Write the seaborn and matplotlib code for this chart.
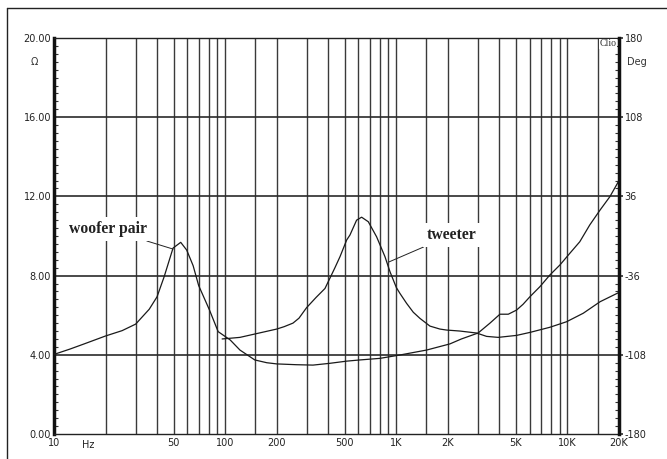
import numpy as np
import pandas as pd
import matplotlib
matplotlib.use("Agg")
import matplotlib.pyplot as plt
import seaborn as sns
from matplotlib.lines import Line2D
from matplotlib.ticker import FixedLocator, FixedFormatter, NullFormatter

# ---------------- data ----------------
woofer_freq = [10, 12.4, 15, 20, 25, 30, 36, 40, 44, 49.6, 55, 59.6, 65, 70, 81, 91,
               107, 122, 149, 175, 200, 260, 326, 409, 513, 612, 802, 1050, 1503,
               2056, 2400, 3005, 3525, 4030, 4510, 5042, 5500, 6030, 6900, 7890, 9040,
               10330, 11800, 13500, 15500, 17700, 20000]
woofer_z = [4.02, 4.29, 4.55, 4.95, 5.22, 5.55, 6.3, 6.93, 7.94, 9.39, 9.68, 9.29, 8.5, 7.5, 6.26, 5.17,
            4.75, 4.24, 3.74, 3.60, 3.54, 3.50, 3.48, 3.57, 3.68, 3.74, 3.82, 3.99, 4.24,
            4.55, 4.8, 5.1, 5.6, 6.05, 6.05, 6.26, 6.55, 6.93, 7.44, 8.03, 8.54,
            9.13, 9.71, 10.56, 11.31, 11.99, 12.8]

tweeter_freq = [96, 122, 149, 200, 221, 249, 270, 299, 340, 383, 438, 469, 513, 536, 586, 627,
                686, 767, 858, 918, 1000, 1050, 1148, 1256, 1374, 1572, 1798, 1966, 2350,
                2943, 3368, 3938, 5042, 6030, 7890, 9880, 12370, 15500, 20000]
tweeter_z = [4.80, 4.88, 5.05, 5.30, 5.42, 5.60, 5.85, 6.38, 6.9, 7.35, 8.4, 8.96, 9.8, 10.05, 10.8, 10.95,
             10.72, 9.96, 8.96, 8.2, 7.4, 7.1, 6.6, 6.15, 5.84, 5.45, 5.3, 5.25, 5.2,
             5.1, 4.93, 4.88, 4.98, 5.13, 5.39, 5.67, 6.10, 6.68, 7.15]

x_tick_vals = [10, 50, 100, 200, 500, 1000, 2000, 5000, 10000, 20000]
x_tick_labels = ["10", "50", "100", "200", "500", "1K", "2K", "5K", "10K", "20K"]
vgrid_freqs = [20, 30, 40, 50, 60, 70, 80, 90, 100, 150, 200, 300, 400, 500, 600, 700,
               800, 900, 1000, 1500, 2000, 3000, 4000, 5000, 6000, 7000, 8000, 9000,
               10000, 15000]
y_tick_vals = [0, 4, 8, 12, 16, 20]
y_tick_labels = ["0.00", "4.00", "8.00", "12.00", "16.00", "20.00"]
deg_tick_vals = [-180, -108, -36, 36, 108, 180]
deg_tick_labels = ["-180", "-108", "-36", "36", "108", "180"]

df_w = pd.DataFrame({"freq": woofer_freq, "z": woofer_z})
df_t = pd.DataFrame({"freq": tweeter_freq, "z": tweeter_z})

# ---------------- plot ----------------
sns.set_theme(style="white")
plt.rcParams["font.family"] = ["DejaVu Sans"]

W, H = 667, 459
fig = plt.figure(figsize=(W / 100, H / 100), dpi=100)
fig.patch.set_facecolor("white")
L, R, T, B = 54, 619, 38, 434
ax = fig.add_axes([L / W, (H - B) / H, (R - L) / W, (B - T) / H])
ax.set_facecolor("white")

ax.set_xscale("log")
ax.set_xlim(10, 20000)
ax.set_ylim(0, 20)

gcol = "#3a3a3a"
for f in vgrid_freqs:
    ax.axvline(f, color=gcol, lw=1.0, zorder=1)
for yv in [4, 8, 12, 16]:
    ax.axhline(yv, color="#2a2a2a", lw=1.2, zorder=1)

sns.lineplot(data=df_w, x="freq", y="z", ax=ax, color="#1a1a1a", lw=0.9, zorder=3)
sns.lineplot(data=df_t, x="freq", y="z", ax=ax, color="#1a1a1a", lw=0.9, zorder=3)
ax.set_xlabel("")
ax.set_ylabel("")

# ticks
ax.xaxis.set_major_locator(FixedLocator(x_tick_vals))
ax.xaxis.set_major_formatter(FixedFormatter(x_tick_labels))
ax.xaxis.set_minor_locator(FixedLocator([]))
ax.xaxis.set_minor_formatter(NullFormatter())
ax.tick_params(axis="x", which="both", length=0, pad=3, labelsize=7, labelcolor="#222")
ax.yaxis.set_major_locator(FixedLocator(y_tick_vals))
ax.yaxis.set_major_formatter(FixedFormatter(y_tick_labels))
ax.yaxis.set_minor_locator(FixedLocator(list(np.arange(0, 20.01, 0.4))))
ax.tick_params(axis="y", which="major", length=0, pad=2, labelsize=7, labelcolor="#222")
ax.tick_params(axis="y", which="minor", left=True, direction="in", length=3, width=0.8, color="#333")

for s in ["top", "bottom"]:
    ax.spines[s].set_color("#222")
    ax.spines[s].set_linewidth(1.0)
ax.spines["left"].set_color("#111")
ax.spines["left"].set_linewidth(2.5)
ax.spines["right"].set_visible(False)

ax2 = ax.twinx()
ax2.set_ylim(-180, 180)
ax2.yaxis.set_major_locator(FixedLocator(deg_tick_vals))
ax2.yaxis.set_major_formatter(FixedFormatter(deg_tick_labels))
ax2.yaxis.set_minor_locator(FixedLocator(list(np.arange(-180, 180.1, 7.2))))
ax2.tick_params(axis="y", which="major", length=3, direction="out", pad=1, labelsize=7,
                labelcolor="#222", color="#333")
ax2.tick_params(axis="y", which="minor", right=True, direction="in", length=3, width=0.8, color="#333")
for s in ["top", "bottom", "left"]:
    ax2.spines[s].set_visible(False)
ax2.spines["right"].set_color("#111")
ax2.spines["right"].set_linewidth(2.5)
ax2.grid(False)
ax.grid(False)

# text annotations
serif = ["Liberation Serif", "DejaVu Serif"]
ax.annotate("woofer pair", xy=(49.6, 9.34), xytext=(35.0, 10.35), ha="right", va="center",
            fontsize=11.3, fontweight="bold", family=serif, color="#222",
            bbox=dict(boxstyle="square,pad=0.25", fc="white", ec="none"),
            arrowprops=dict(arrowstyle="-", color="#222", lw=0.7, shrinkA=0, shrinkB=0),
            zorder=4)
ax.annotate("tweeter", xy=(906, 8.69), xytext=(1500, 10.05), ha="left", va="center",
            fontsize=11.3, fontweight="bold", family=serif, color="#222",
            bbox=dict(boxstyle="square,pad=0.25", fc="white", ec="none"),
            arrowprops=dict(arrowstyle="-", color="#222", lw=0.7, shrinkA=0, shrinkB=0),
            zorder=4)

fig.text((L - 20) / W, 1 - 62 / H, "Ω", fontsize=7, color="#333", ha="center", va="center")
fig.text(637 / W, 1 - 62 / H, "Deg", fontsize=7, color="#333", ha="center", va="center")
fig.text(608 / W, 1 - 44 / H, "Clio", fontsize=7, color="#333", ha="center", va="center",
         family=serif, bbox=dict(boxstyle="square,pad=0.1", fc="white", ec="none"))
fig.text(88 / W, 1 - 445 / H, "Hz", fontsize=7, color="#222", ha="center", va="center")

# outer frame
fig.add_artist(Line2D([7 / W, 7 / W], [1 - 8 / H, 0], transform=fig.transFigure, color="#222", lw=1.0))
fig.add_artist(Line2D([7 / W, 1], [1 - 8 / H, 1 - 8 / H], transform=fig.transFigure, color="#222", lw=1.0))

fig.savefig("out.png", dpi=100, facecolor="white")
